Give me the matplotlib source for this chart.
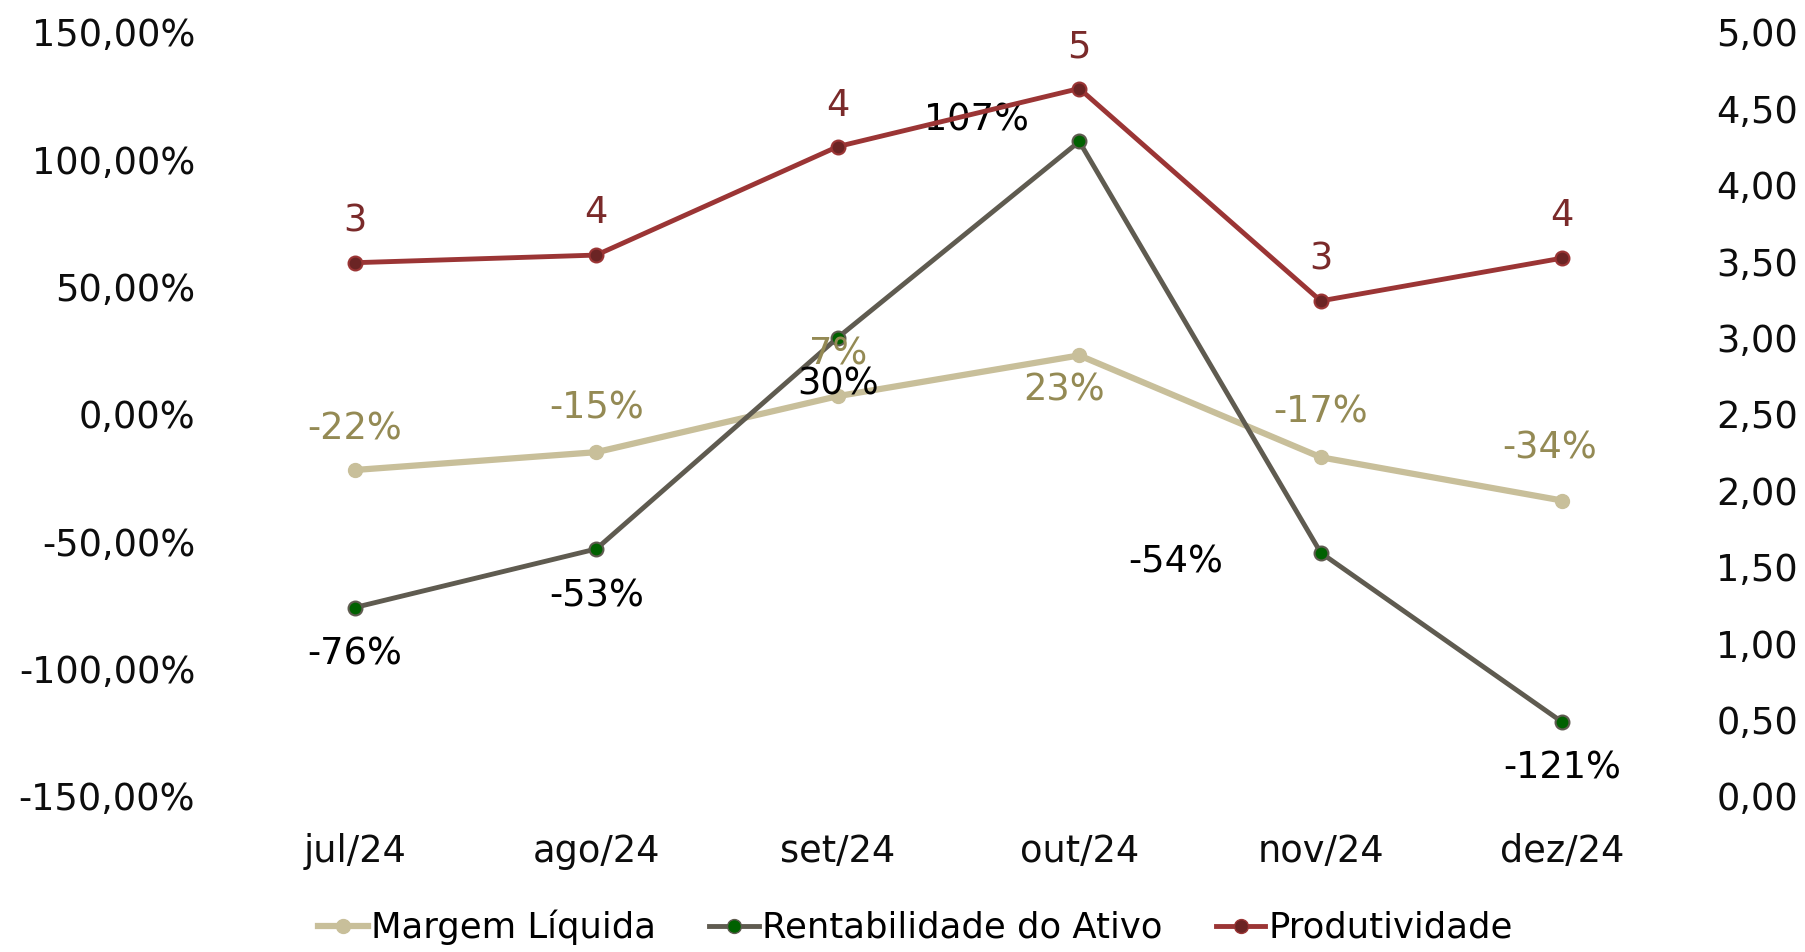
import matplotlib
matplotlib.use("Agg")
import matplotlib.pyplot as plt
from matplotlib.lines import Line2D

plt.rcParams['font.family'] = ['DejaVu Sans']

categories = ["jul/24", "ago/24", "set/24", "out/24", "nov/24", "dez/24"]
margem = [-22, -15, 7, 23, -17, -34]
rentab = [-76, -53, 30, 107, -54.5, -121]
produt = [3.49, 3.54, 4.25, 4.63, 3.24, 3.52]

margem_labels = ["-22%", "-15%", "7%", "23%", "-17%", "-34%"]
rentab_labels = ["-76%", "-53%", "30%", "107%", "-54%", "-121%"]
produt_labels = ["3", "4", "4", "5", "3", "4"]

left_ticks = [-150, -100, -50, 0, 50, 100, 150]
left_ticklabels = ["-150,00%", "-100,00%", "-50,00%", "0,00%", "50,00%", "100,00%", "150,00%"]
right_ticks = [0, 0.5, 1, 1.5, 2, 2.5, 3, 3.5, 4, 4.5, 5]
right_ticklabels = ["0,00", "0,50", "1,00", "1,50", "2,00", "2,50", "3,00", "3,50", "4,00", "4,50", "5,00"]

c_m, c_m_lab = "#C8BF9A", "#948A54"
c_r, c_r_mk = "#5F5B50", "#006100"
c_p, c_p_mk, c_p_lab = "#9B3535", "#6B2424", "#7A2A2A"

fs = 26.5

fig = plt.figure(figsize=(18.06, 9.52), dpi=100)
ax = fig.add_axes([0.1296, 0.1639, 0.8023, 0.8025])
ax2 = ax.twinx()

x = list(range(len(categories)))
ax.plot(x, margem, color=c_m, lw=4.5, marker="o", ms=10, mfc=c_m, mec=c_m, zorder=3)
ax.plot(x, rentab, color=c_r, lw=3.5, marker="o", ms=10, mfc=c_r_mk, mec=c_r, mew=1.5, zorder=4)
ax2.plot(x, produt, color=c_p, lw=3.5, marker="o", ms=10, mfc=c_p_mk, mec=c_p, mew=1.5, zorder=4)

ax.set_xlim(-0.5, len(categories) - 0.5)
ax.set_ylim(-150, 150)
ax2.set_ylim(0, 5)

ax.set_xticks(x)
ax.set_xticklabels(categories, fontsize=fs, color="#0D0D0D")
ax.set_yticks(left_ticks)
ax.set_yticklabels(left_ticklabels, fontsize=fs, color="#0D0D0D")
ax2.set_yticks(right_ticks)
ax2.set_yticklabels(right_ticklabels, fontsize=fs, color="#0D0D0D")
ax.tick_params(axis="x", length=0, pad=27)
ax.tick_params(axis="y", length=0, pad=28)
ax2.tick_params(axis="y", length=0, pad=24)
for a in (ax, ax2):
    for s in a.spines.values():
        s.set_visible(False)

k = 0.829
m_off = [(0, 36), (0, 38), (0, 37), (-13, -30), (0, 39), (-11, 46)]
r_off = [(0, -40), (0, -41), (0, -40), (-89, 19), (-126, -8), (0, -40)]
p_off = [(0, 36), (0, 37), (0, 36), (0, 36), (0, 36), (0, 37)]

for i in x:
    ax.annotate(margem_labels[i], (i, margem[i]), xytext=(m_off[i][0] * k, m_off[i][1] * k),
                textcoords="offset points", ha="center", va="center", fontsize=fs, color=c_m_lab, zorder=5)
    ax.annotate(rentab_labels[i], (i, rentab[i]), xytext=(r_off[i][0] * k, r_off[i][1] * k),
                textcoords="offset points", ha="center", va="center", fontsize=fs, color="#000000", zorder=5)
    ax2.annotate(produt_labels[i], (i, produt[i]), xytext=(p_off[i][0] * k, p_off[i][1] * k),
                 textcoords="offset points", ha="center", va="center", fontsize=fs, color=c_p_lab, zorder=5)

handles = [
    Line2D([], [], color=c_m, lw=4.5, marker="o", ms=10, mfc=c_m, mec=c_m),
    Line2D([], [], color=c_r, lw=3.5, marker="o", ms=10, mfc=c_r_mk, mec=c_r),
    Line2D([], [], color=c_p, lw=3.5, marker="o", ms=10, mfc=c_p_mk, mec=c_p),
]
fig.legend(handles, ["Margem Líquida", "Rentabilidade do Ativo", "Produtividade"],
           loc="center", bbox_to_anchor=(0.507, 0.026), ncol=3, frameon=False,
           fontsize=25.5, handlelength=1.4, handletextpad=0.1, columnspacing=1.5)

fig.savefig("out.png", dpi=100)
